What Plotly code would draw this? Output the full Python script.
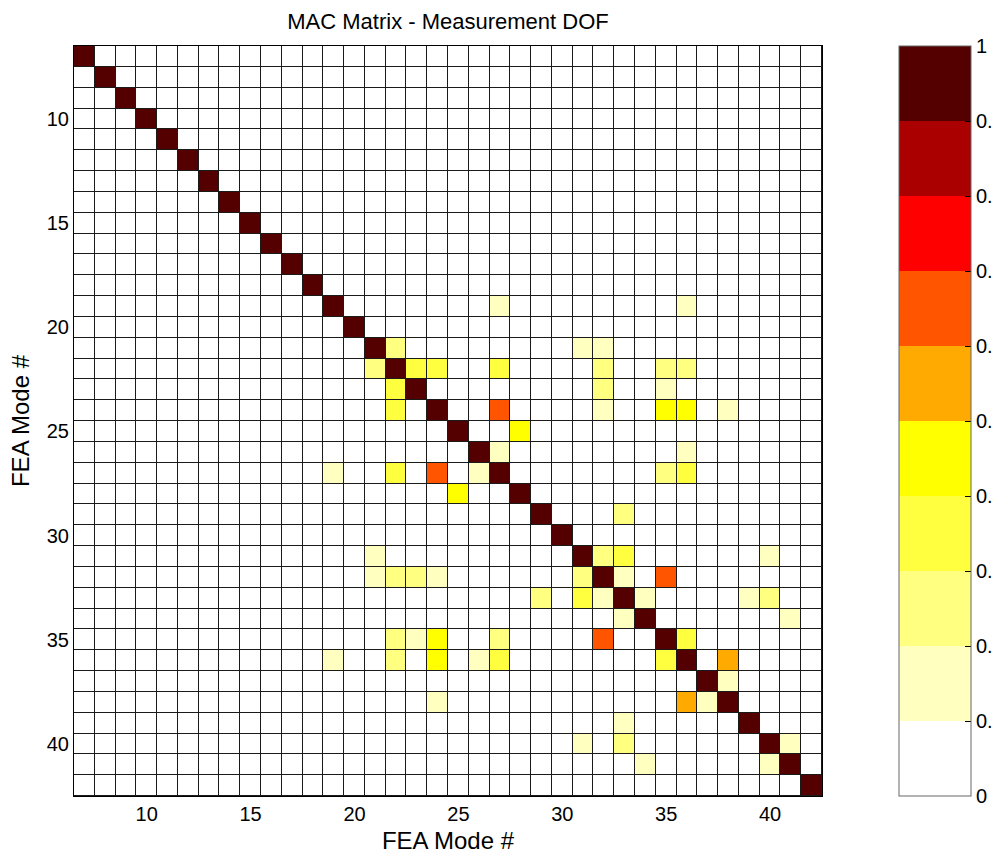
import numpy as np
import plotly.graph_objects as go

# ---- data ----
modes = list(range(7, 43))          # FEA mode numbers on both axes

# off-diagonal MAC entries (row mode, column mode, value)
mac_row = [19, 19,
           21, 21, 21,
           22, 22, 22, 22, 22, 22, 22,
           23, 23, 23,
           24, 24, 24, 24, 24, 24,
           25,
           26, 26,
           27, 27, 27, 27, 27, 27,
           28,
           29,
           31, 31, 31, 31,
           32, 32, 32, 32, 32, 32, 32,
           33, 33, 33, 33, 33, 33,
           34, 34,
           35, 35, 35, 35, 35, 35,
           36, 36, 36, 36, 36, 36, 36,
           37,
           38, 38, 38,
           39,
           40, 40, 40,
           41, 41]
mac_col = [27, 36,
           22, 31, 32,
           21, 23, 24, 27, 32, 35, 36,
           22, 32, 35,
           22, 27, 32, 35, 36, 38,
           28,
           27, 36,
           19, 22, 24, 26, 35, 36,
           25,
           33,
           21, 32, 33, 40,
           21, 22, 23, 24, 31, 33, 35,
           29, 31, 32, 34, 39, 40,
           33, 41,
           22, 23, 24, 27, 32, 36,
           19, 22, 24, 26, 27, 35, 38,
           38,
           24, 36, 37,
           33,
           31, 33, 41,
           34, 40]
mac_val = [0.15, 0.15,
           0.25, 0.15, 0.15,
           0.25, 0.35, 0.35, 0.35, 0.25, 0.25, 0.25,
           0.35, 0.25, 0.15,
           0.35, 0.65, 0.15, 0.45, 0.45, 0.15,
           0.45,
           0.15, 0.15,
           0.15, 0.35, 0.65, 0.15, 0.25, 0.35,
           0.45,
           0.25,
           0.15, 0.25, 0.35, 0.15,
           0.15, 0.25, 0.25, 0.15, 0.25, 0.15, 0.65,
           0.25, 0.35, 0.15, 0.15, 0.15, 0.25,
           0.15, 0.15,
           0.25, 0.15, 0.45, 0.25, 0.65, 0.35,
           0.15, 0.25, 0.45, 0.15, 0.35, 0.35, 0.55,
           0.15,
           0.15, 0.55, 0.15,
           0.15,
           0.15, 0.25, 0.15,
           0.15, 0.15]
diag_val = 1.0

cbar_ticks = [0, 0.1, 0.2, 0.3, 0.4, 0.5, 0.6, 0.7, 0.8, 0.9, 1]
cbar_labels = ["0", "0.1", "0.2", "0.3", "0.4", "0.5", "0.6", "0.7", "0.8", "0.9", "1"]
axis_ticks = [10, 15, 20, 25, 30, 35, 40]

# ---- build matrix ----
n = len(modes)
mac = np.zeros((n, n))
for i in range(n):
    mac[i, i] = diag_val
for r, c, v in zip(mac_row, mac_col, mac_val):
    mac[modes.index(r), modes.index(c)] = v

# flipped MATLAB hot(10), stepped
band_colors = ["#FFFFFF", "#FFFFBF", "#FFFF80", "#FFFF40", "#FFFF00",
               "#FFAA00", "#FF5500", "#FF0000", "#AA0000", "#550000"]
colorscale = []
for k, col in enumerate(band_colors):
    colorscale.append([k / 10, col])
    colorscale.append([(k + 1) / 10, col])

W, H = 993, 855
L, R, T, B = 74, 822, 46, 796
FONT = "Liberation Sans, Arial, Helvetica, sans-serif"

fig = go.Figure(go.Heatmap(
    z=mac, x=modes, y=modes, zmin=0, zmax=1,
    colorscale=colorscale, xgap=1, ygap=1,
    colorbar=dict(
        thickness=72, thicknessmode="pixels",
        len=1, lenmode="fraction",
        x=(899 - L) / (R - L), xref="paper", xanchor="left", xpad=0,
        y=0.5, yref="paper", yanchor="middle", ypad=0,
        outlinecolor="#666666", outlinewidth=1,
        tickvals=cbar_ticks, ticktext=cbar_labels,
        ticks="inside", ticklen=6, tickcolor="black",
        tickfont=dict(size=20, color="black", family=FONT),
    ),
))

fig.update_layout(
    width=W, height=H,
    margin=dict(l=L, r=W - R, t=T, b=H - B, autoexpand=False),
    paper_bgcolor="white", plot_bgcolor="#1a1a1a",
    font=dict(family=FONT, size=20, color="black"),
    title=dict(text="MAC Matrix - Measurement DOF", x=0.5, xref="paper",
               xanchor="center", y=1 - 21 / H, yref="container",
               yanchor="middle", font=dict(size=22, color="black")),
    xaxis=dict(range=[6.5, 42.5], tickvals=axis_ticks, ticks="",
               showgrid=False, zeroline=False, showline=True, mirror=True,
               linecolor="black", linewidth=1,
               title=dict(text="FEA Mode #", standoff=8)),
    yaxis=dict(range=[42.5, 6.5], tickvals=axis_ticks, ticks="",
               showgrid=False, zeroline=False, showline=True, mirror=True,
               linecolor="black", linewidth=1,
               title=dict(text="FEA Mode #", standoff=10)),
)

fig.write_html("out.html")
